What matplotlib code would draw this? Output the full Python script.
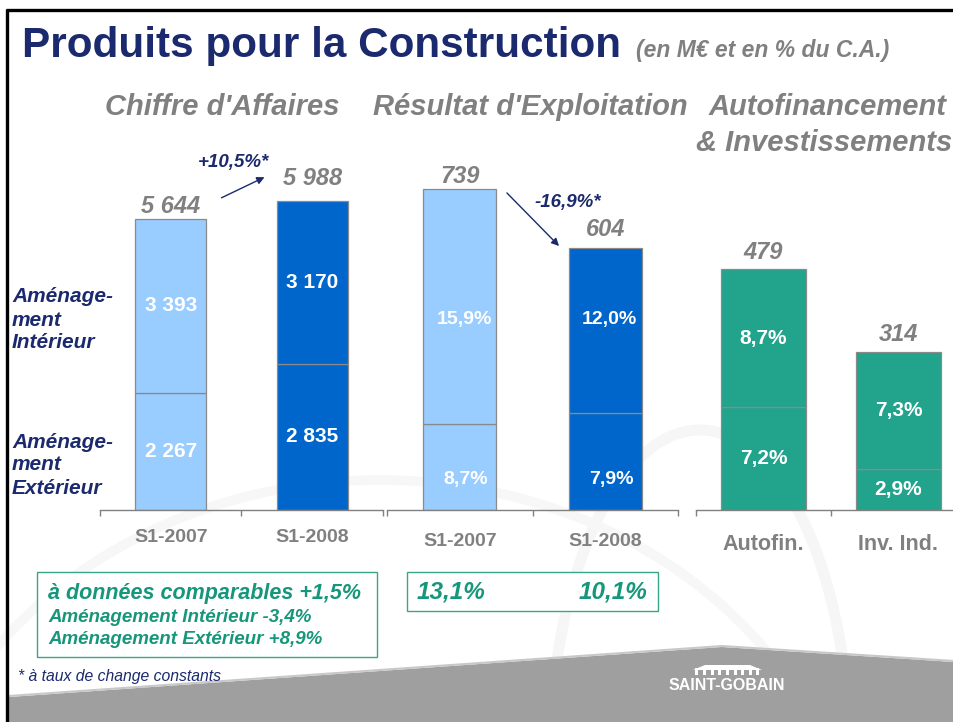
import numpy as np
import matplotlib.pyplot as plt
from matplotlib.patches import Rectangle, Polygon, FancyArrowPatch

plt.rcParams['font.family'] = ['Liberation Sans', 'DejaVu Sans']

# ---- data ----
ca_periods = ['S1-2007', 'S1-2008']
ca_total = [5644, 5988]
ca_ext = [2267, 2835]
ca_int = [3393, 3170]

re_periods = ['S1-2007', 'S1-2008']
re_total = [739, 604]
re_pct_ext = [8.7, 7.9]
re_pct_int = [15.9, 12.0]

af_cats = ['Autofin.', 'Inv. Ind.']
af_total = [479, 314]
af_pct_ext = [7.2, 2.9]
af_pct_int = [8.7, 7.3]

ca_growth = '+10,5%*'
re_growth = '-16,9%*'
re_margin = ['13,1%', '10,1%']
comparable = ['à données comparables +1,5%',
              'Aménagement Intérieur -3,4%',
              'Aménagement Extérieur +8,9%']

# ---- style ----
W, H = 954, 722
navy = '#1b2a6e'
grey = '#808080'
light_blue = '#99ccff'
dark_blue = '#0066cc'
teal = '#22a38c'
green_txt = '#16967a'
edge = '#8a8a8a'


def thousands(v):
    return f"{v:,}".replace(',', ' ')


def pct(v):
    return f"{v:.1f}".replace('.', ',') + '%'


fig = plt.figure(figsize=(W / 100, H / 100), dpi=100)
fig.patch.set_facecolor('white')

# background axes in pixel coordinates
bg = fig.add_axes([0, 0, 1, 1], zorder=0)
bg.set_xlim(0, W)
bg.set_ylim(H, 0)
bg.axis('off')

# faint swooshes
t = np.linspace(0, 2 * np.pi, 400)
bg.plot(700 + 150 * np.cos(t), 760 + 330 * np.sin(t), color='#f6f6f6', lw=8, zorder=0)
bg.plot(380 + 480 * np.cos(t), 900 + 420 * np.sin(t), color='#f7f7f7', lw=7, zorder=0)

# footer
bg.add_patch(Polygon([(9, 697), (722, 647), (954, 662), (954, 722), (9, 722)],
                     closed=True, facecolor='#a09f9f', edgecolor='none', zorder=1))
bg.plot([9, 722, 954], [696, 646, 661], color='#c8c8c8', lw=1.5, zorder=1)

# frame
bg.plot([7.5, 7.5], [9, H], color='black', lw=2.4, zorder=5, solid_capstyle='butt')
bg.plot([6, W], [10, 10], color='black', lw=2.4, zorder=5, solid_capstyle='butt')

# logo
bg.text(727, 686, 'SAINT-GOBAIN', color='white', fontsize=11.5, fontweight='bold',
        ha='center', va='center', zorder=3)
bg.add_patch(Polygon([(693, 670), (705, 665), (750, 665), (762, 670)], closed=True,
                     facecolor='white', edgecolor='none', zorder=3))
for cx in np.linspace(697, 758, 9):
    bg.add_patch(Rectangle((cx - 1.5, 668), 3, 7, facecolor='white', edgecolor='none', zorder=3))

# titles
fig.text(22 / W, 1 - 46 / H, 'Produits pour la Construction', color=navy,
         fontsize=30.4, fontweight='bold', va='center', ha='left')
fig.text(636 / W, 1 - 51 / H, "(en M€ et en % du C.A.)", color=grey,
         fontsize=16.5, fontweight='bold', style='italic', va='center', ha='left')
for txt, x, y in [("Chiffre d'Affaires", 222, 107), ("Résultat d'Exploitation", 530, 107),
                  ("Autofinancement", 828, 107)]:
    fig.text(x / W, 1 - y / H, txt, color=grey, fontsize=21, fontweight='bold',
             style='italic', ha='center', va='center')
fig.text(952 / W, 1 - 143 / H, "& Investissements", color=grey, fontsize=21,
         fontweight='bold', style='italic', ha='right', va='center')

# left labels
for lines, ys in [(['Aménage-', 'ment', 'Intérieur'], [297, 320, 343]),
                  (['Aménage-', 'ment', 'Extérieur'], [443, 465, 488])]:
    for s, y in zip(lines, ys):
        fig.text(12 / W, 1 - y / H, s, color=navy, fontsize=15, fontweight='bold',
                 style='italic', ha='left', va='center')


def make_axes(x0, x1, ymax):
    ax = fig.add_axes([x0 / W, 1 - 510 / H, (x1 - x0) / W, 360 / H], zorder=2)
    ax.patch.set_alpha(0)
    ax.set_xlim(-0.5, 1.5)
    ax.set_ylim(0, ymax)
    for s in ['top', 'left', 'right']:
        ax.spines[s].set_visible(False)
    ax.spines['bottom'].set_color(grey)
    ax.spines['bottom'].set_linewidth(1)
    ax.set_yticks([])
    ax.set_xticks([-0.5, 0.5, 1.5])
    ax.set_xticklabels([])
    ax.tick_params(axis='x', length=4.5, width=1, color=grey, direction='out')
    return ax


def stacked(ax, bottoms, totals, color, width, offsets):
    x = np.arange(len(totals))
    tops = [t - b for t, b in zip(totals, bottoms)]
    ax.bar(x, bottoms, width, color=color, edgecolor=edge, linewidth=0.9, zorder=2)
    ax.bar(x, tops, width, bottom=bottoms, color=color, edgecolor=edge, linewidth=0.9, zorder=2)
    for i, tot in enumerate(totals):
        ax.annotate(thousands(tot), (x[i], tot), xytext=(0, offsets[i] * 0.72),
                    textcoords='offset points', ha='center', va='center',
                    color=grey, fontsize=17, fontweight='bold', style='italic')
    return x


def cat_labels(ax, cats, dy, size):
    for i, c in enumerate(cats):
        ax.text(i, -dy / 360, c, transform=ax.get_xaxis_transform(), ha='center',
                va='center', color=grey, fontsize=size, fontweight='bold')


# Chiffre d'Affaires
ax1 = make_axes(100, 383, 6980)
x = stacked(ax1, ca_ext, ca_total, [light_blue, dark_blue], 0.5, [12, 23])
for i in range(2):
    ax1.text(x[i], ca_ext[i] / 2, thousands(ca_ext[i]), ha='center', va='center',
             color='white', fontsize=15, fontweight='bold')
    ax1.text(x[i], (ca_ext[i] + ca_total[i]) / 2, thousands(ca_int[i]), ha='center',
             va='center', color='white', fontsize=15, fontweight='bold')
cat_labels(ax1, ca_periods, 27, 14)

# Résultat d'Exploitation
ax2 = make_axes(387, 678, 829)
re_ext = [p / 100 * c for p, c in zip(re_pct_ext, ca_ext)]
x = stacked(ax2, re_ext, re_total, [light_blue, dark_blue], 0.5, [13, 18])
for i in range(2):
    ax2.text(x[i] + 0.04, 0.086, pct(re_pct_ext[i]), transform=ax2.get_xaxis_transform(),
             ha='center', va='center', color='white', fontsize=14, fontweight='bold')
    ax2.text(x[i] + 0.03, 0.528, pct(re_pct_int[i]), transform=ax2.get_xaxis_transform(),
             ha='center', va='center', color='white', fontsize=14, fontweight='bold')
cat_labels(ax2, re_periods, 31, 14)

# Autofinancement & Investissements
ax3 = make_axes(696, 966, 715)
af_ext = [p / 100 * ca_ext[1] for p in af_pct_ext]
x = stacked(ax3, af_ext, af_total, teal, 0.63, [16, 17])
for i in range(2):
    ax3.text(x[i], af_ext[i] / 2, pct(af_pct_ext[i]), ha='center', va='center',
             color='white', fontsize=15, fontweight='bold')
    ax3.text(x[i], (af_ext[i] + af_total[i]) / 2, pct(af_pct_int[i]), ha='center',
             va='center', color='white', fontsize=15, fontweight='bold')
cat_labels(ax3, af_cats, 34, 15.5)

# growth arrows
fig.text(233 / W, 1 - 163 / H, ca_growth, color=navy, fontsize=13.5, fontweight='bold',
         style='italic', ha='center', va='center')
fig.add_artist(FancyArrowPatch((219 / W, 1 - 199 / H), (267 / W, 1 - 176 / H),
                               transform=fig.transFigure, arrowstyle='-|>',
                               mutation_scale=11, color=navy, lw=1))
fig.text(568 / W, 1 - 202 / H, re_growth, color=navy, fontsize=13.5, fontweight='bold',
         style='italic', ha='center', va='center')
fig.add_artist(FancyArrowPatch((505 / W, 1 - 191 / H), (561 / W, 1 - 248 / H),
                               transform=fig.transFigure, arrowstyle='-|>',
                               mutation_scale=11, color=navy, lw=1))

# boxes
bg.add_patch(Rectangle((37, 572), 340, 85, facecolor='white', edgecolor='#3aa589', lw=1, zorder=2))
bg.add_patch(Rectangle((407, 572), 251, 39, facecolor='white', edgecolor='#3aa589', lw=1, zorder=2))
bg.text(48, 593, comparable[0], color=green_txt, fontsize=15.5, fontweight='bold',
        style='italic', ha='left', va='center', zorder=3)
bg.text(48, 618, comparable[1], color=green_txt, fontsize=13.5, fontweight='bold',
        style='italic', ha='left', va='center', zorder=3)
bg.text(48, 639, comparable[2], color=green_txt, fontsize=13.5, fontweight='bold',
        style='italic', ha='left', va='center', zorder=3)
bg.text(451, 592, re_margin[0], color=green_txt, fontsize=17.5, fontweight='bold',
        style='italic', ha='center', va='center', zorder=3)
bg.text(613, 592, re_margin[1], color=green_txt, fontsize=17.5, fontweight='bold',
        style='italic', ha='center', va='center', zorder=3)

# footnote
bg.text(18, 677, '* à taux de change constants', color=navy, fontsize=11.3,
        style='italic', ha='left', va='center', zorder=3)

fig.savefig('out.png', dpi=100)
